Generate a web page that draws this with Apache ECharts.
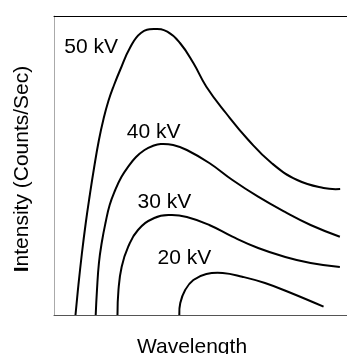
<!DOCTYPE html>
<html>
<head>
<meta charset="utf-8">
<script src="https://cdn.jsdelivr.net/npm/echarts@6/dist/echarts.min.js"></script>
<style>
  html, body { margin: 0; padding: 0; background: #fff; }
</style>
</head>
<body>
<div id="chart" style="width: 347px; height: 354px"></div>
<script>
// values, arbitrary units (wavelength, intensity)
const kv50 = [[22, 0], [25, 30], [28.5, 61], [32.5, 92], [36.5, 119], [41, 147], [46, 175], [50.7, 196], [55.7, 214], [61.5, 230], [67.7, 245], [77.7, 267], [89, 282], [102.7, 286], [116, 283.3], [129, 272], [142.7, 252], [156, 228.3], [176, 202], [199, 175], [222.7, 152], [249, 135], [276, 127], [293, 126]]
const kv40 = [[42.7, 0], [44, 25], [46, 52], [49, 73], [52.7, 92], [57, 110], [62.7, 125], [69, 138], [76, 148.3], [84, 158], [92.7, 165], [101, 169], [109.3, 171], [122, 170], [136, 165], [159, 152], [182.7, 135], [209, 118.3], [236, 103.3], [262.7, 90], [292.7, 78.3]]
const kv30 = [[65, 0], [66, 25], [69.3, 48.3], [76, 68.3], [86, 85], [102.7, 97], [119.3, 100], [136, 98], [159, 90], [182.7, 78.3], [209, 67], [236, 58.3], [262.7, 52], [292.7, 48]]
const kv20 = [[128.3, 0], [129.3, 12], [134.3, 25], [142.7, 35], [156, 41], [172.7, 42], [192.7, 38.3], [216, 32], [242.7, 22], [276, 8.3]]
const seriesNames = ['50 kV', '40 kV', '30 kV', '20 kV']
const labelCoords = [[38, 268], [102, 183], [113, 113], [133.5, 57]]

const font = "'Liberation Sans', Arial, sans-serif"
const chart = echarts.init(document.getElementById('chart'))

// one smooth spline per curve, drawn once through the axis scales
const makeCurve = (data, i) => ({
  name: seriesNames[i],
  type: 'custom',
  data: data,
  animation: false,
  silent: true,
  renderItem: (params, api) => {
    if (params.dataIndex !== 0) return
    return {
      type: 'polyline',
      shape: { points: data.map(d => api.coord(d)), smooth: 0.45 },
      style: { stroke: '#000', lineWidth: 2, fill: null }
    }
  }
})

const labelSeries = {
  type: 'scatter',
  symbolSize: 0,
  silent: true,
  animation: false,
  itemStyle: { opacity: 1 },
  data: seriesNames.map((n, i) => ({ name: n, value: labelCoords[i] })),
  label: {
    show: true,
    position: 'inside',
    formatter: '{b}',
    color: '#000',
    opacity: 1,
    textBorderWidth: 0,
    fontSize: 21,
    fontFamily: font
  }
}

const option = {
  backgroundColor: '#fff',
  grid: { left: 54, top: 16, width: 300, height: 299 },
  xAxis: [{
    type: 'value',
    min: 0,
    max: 300,
    axisLine: { show: true, lineStyle: { color: '#555', width: 1 } },
    axisTick: { show: false },
    axisLabel: { show: false },
    splitLine: { show: false }
  }, {
    type: 'value',
    position: 'top',
    min: 0,
    max: 300,
    axisLine: { show: true, lineStyle: { color: '#000', width: 1 } },
    axisTick: { show: false },
    axisLabel: { show: false },
    splitLine: { show: false }
  }],
  yAxis: {
    type: 'value',
    min: 0,
    max: 299,
    axisLine: { show: true, lineStyle: { color: '#aaa', width: 1 } },
    axisTick: { show: false },
    axisLabel: { show: false },
    splitLine: { show: false }
  },
  series: [kv50, kv40, kv30, kv20].map(makeCurve).concat([labelSeries]),
  graphic: [{
    type: 'text',
    x: 192,
    y: 347,
    style: {
      text: 'Wavelength',
      fill: '#000',
      font: '21px ' + font,
      align: 'center',
      verticalAlign: 'middle'
    }
  }, {
    type: 'text',
    x: 22,
    y: 169,
    rotation: Math.PI / 2,
    style: {
      text: '{b|I}ntensity (Counts/Sec)',
      fill: '#000',
      font: '21px ' + font,
      align: 'center',
      verticalAlign: 'middle',
      rich: {
        b: { fontWeight: 'bold', fontSize: 21, fontFamily: font }
      }
    }
  }]
}
chart.setOption(option)
</script>
</body>
</html>
